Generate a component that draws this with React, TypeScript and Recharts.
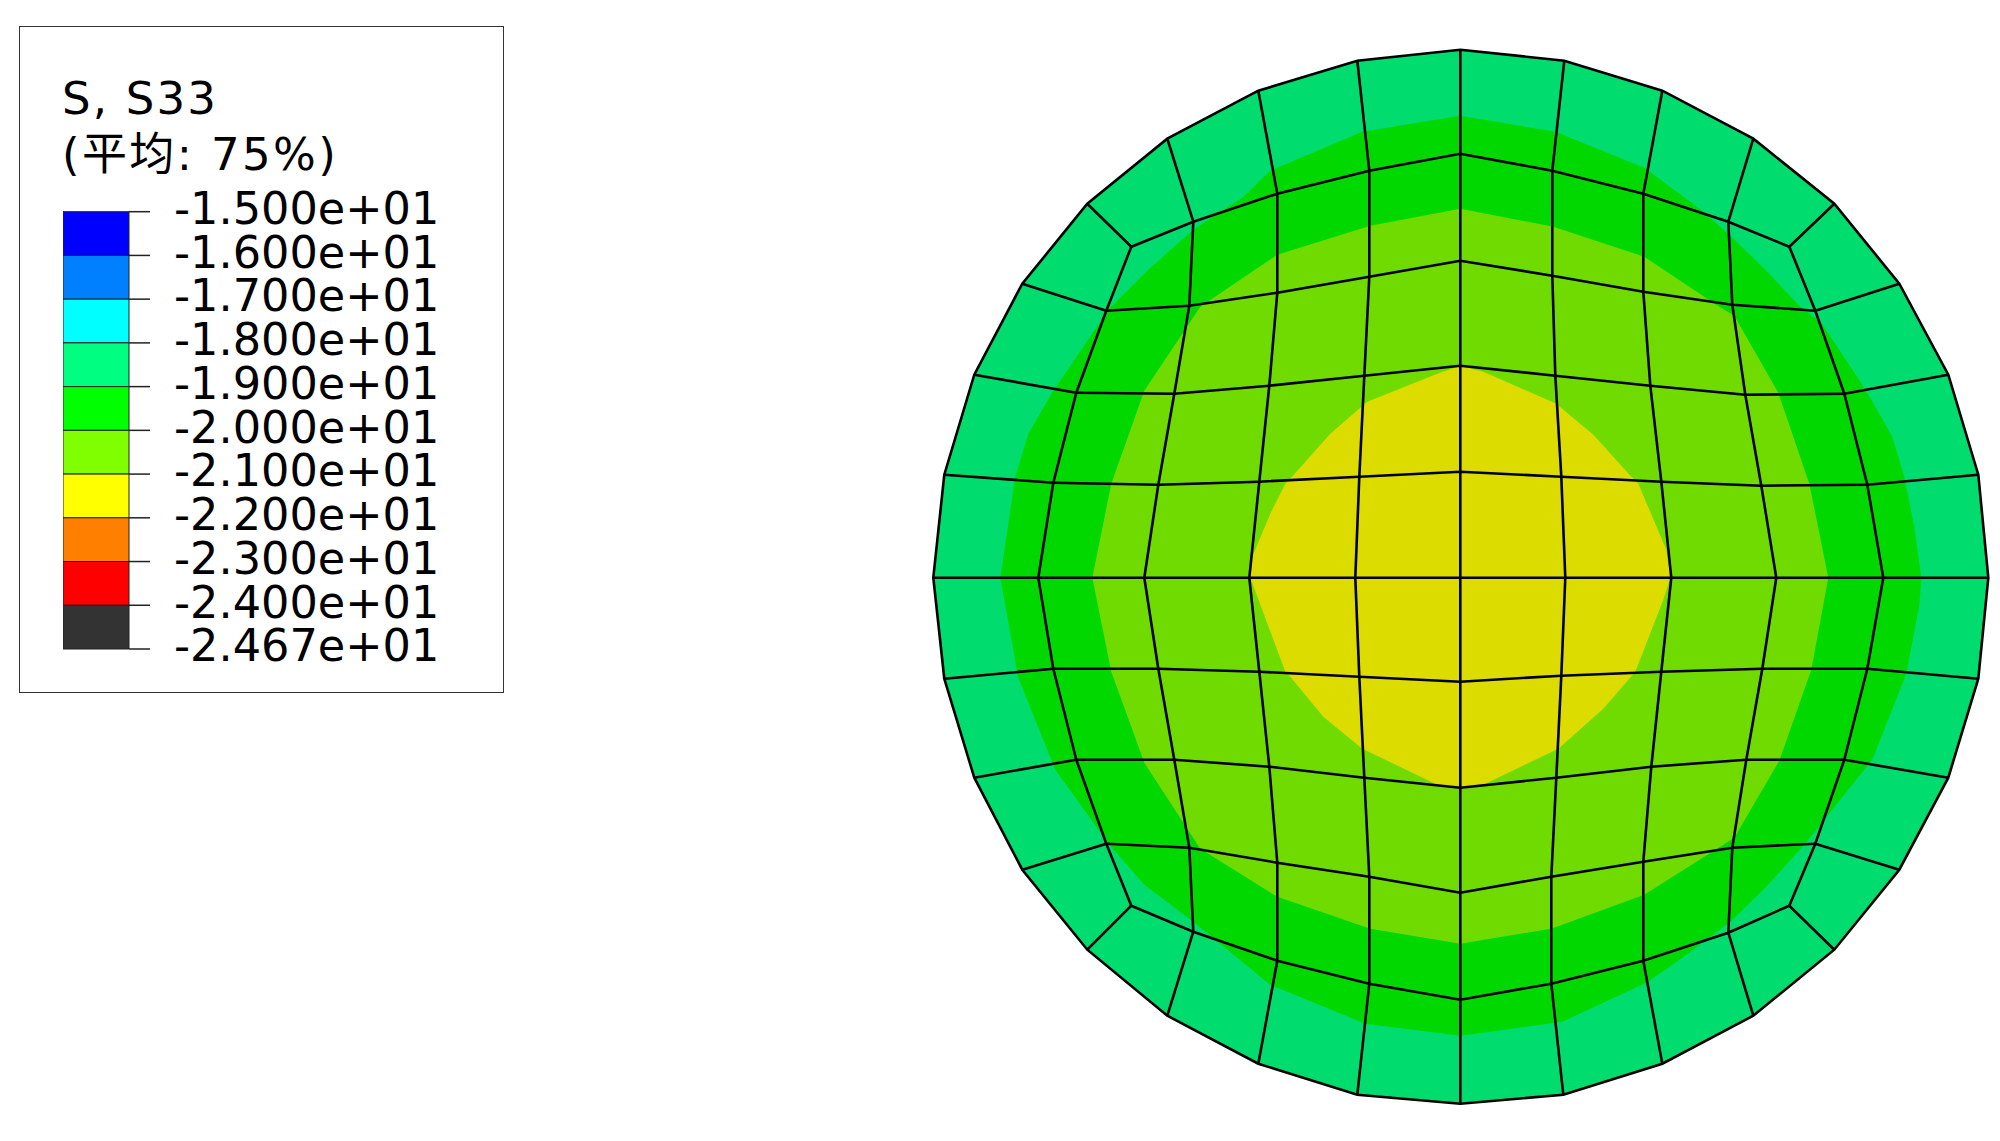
import { Bar, BarChart, Polygon, Scatter, ScatterChart, XAxis, YAxis } from "recharts";

type Pt = [number, number];

// S33 legend, top to bottom
const legendLabels = [
  "-1.500e+01", "-1.600e+01", "-1.700e+01", "-1.800e+01", "-1.900e+01", "-2.000e+01",
  "-2.100e+01", "-2.200e+01", "-2.300e+01", "-2.400e+01", "-2.467e+01"
];
const legendColors = [
  "#0000FF", "#0080FF", "#00FFFF", "#00FF80", "#00FF00",
  "#80FF00", "#FFFF00", "#FF8000", "#FF0000", "#333333"
];

// mesh nodes in model units, origin at the section centre, y up
const meshRows: Pt[][] = [
  [[-329, 331], [-267, 356], [-183, 384], [-91, 407], [0, 424], [92, 407], [183, 384], [268, 356], [329, 331]],
  [[-354, 267], [-271, 272], [-183, 285], [-91, 301], [0, 317], [92, 302], [183, 286], [272, 273], [355, 267]],
  [[-384, 185], [-286, 184], [-191, 192], [-96, 202], [0, 212], [95, 202], [190, 192], [285, 183], [384, 184]],
  [[-407, 95], [-302, 93], [-201, 96], [-101, 101], [0, 106], [101, 101], [201, 96], [301, 92], [407, 93]],
  [[-422, 0], [-316, 0], [-211, 0], [-105, 0], [0, 0], [105, 0], [211, 0], [316, 0], [423, 0]],
  [[-407, -91], [-302, -91], [-201, -94], [-101, -99], [0, -104], [101, -98], [201, -94], [302, -91], [407, -91]],
  [[-384, -182], [-286, -182], [-191, -189], [-96, -200], [0, -210], [96, -200], [191, -189], [286, -182], [384, -182]],
  [[-354, -266], [-271, -270], [-183, -285], [-91, -299], [0, -315], [91, -299], [183, -284], [272, -270], [355, -266]],
  [[-329, -328], [-267, -354], [-183, -383], [-91, -406], [0, -422], [91, -406], [183, -383], [268, -355], [329, -328]]
];

// rim nodes, clockwise from the top
const rimNodes: Pt[] = [
  [0, 528], [104, 517], [202, 487], [293, 439], [374, 374], [439, 294], [488, 203], [518, 103],
  [528, 0], [518, -101], [488, -200], [439, -292], [374, -372], [293, -438], [202, -486], [103, -517],
  [0, -526], [-103, -517], [-202, -486], [-293, -438], [-373, -372], [-438, -292], [-486, -200], [-516, -101],
  [-527, 0], [-516, 103], [-486, 203], [-438, 294], [-373, 374], [-293, 439], [-202, 487], [-103, 517]
];

// contour bands
const greenBand: Pt[] = [
  [0, 462], [95, 446], [184, 410], [242, 367], [270, 342], [305, 308], [340, 271], [361, 255], [400, 196],
  [414, 173], [432, 141], [444, 101], [454, 51], [461, 0], [459, -28], [446, -96], [412, -182], [379, -223],
  [344, -267], [305, -310], [270, -344], [218, -383], [186, -405], [102, -444], [0, -458], [-95, -446],
  [-190, -407], [-267, -344], [-316, -307], [-351, -267], [-405, -192], [-442, -100], [-460, 0], [-445, 101],
  [-432, 144], [-407, 187], [-351, 269], [-312, 308], [-267, 348], [-218, 380], [-190, 407], [-98, 446]
];
const limeBand: Pt[] = [
  [0, 369], [93, 351], [184, 321], [256, 273], [274, 262], [318, 185], [349, 94], [368, 0], [351, -92],
  [319, -183], [274, -260], [184, -317], [91, -351], [0, -366], [-90, -351], [-183, -319], [-260, -271],
  [-316, -185], [-349, -94], [-368, 0], [-349, 94], [-316, 187], [-260, 271], [-183, 323], [-90, 352]
];
const yellowBand: Pt[] = [
  [0, 212], [23, 206], [96, 174], [133, 143], [171, 101], [178, 94], [206, 28], [210, 0], [203, -22],
  [175, -94], [143, -131], [98, -171], [23, -207], [0, -211], [-23, -207], [-98, -171], [-137, -139],
  [-170, -99], [-175, -94], [-210, 0], [-208, 21], [-190, 64], [-175, 94], [-170, 99], [-130, 144],
  [-93, 176], [-23, 204]
];

const bands = [
  { id: "rim", nodes: rimNodes, color: "#00DC6E" },
  { id: "green", nodes: greenBand, color: "#00D800" },
  { id: "lime", nodes: limeBand, color: "#70DB00" },
  { id: "yellow", nodes: yellowBand, color: "#DCDC00" }
];

const toXY = (nodes: Pt[]) => nodes.map(([x, y]) => ({ x, y }));

const meshColumns: Pt[][] = meshRows[0].map((_, i) => meshRows.map((row) => row[i]));

// walks the block edge clockwise, same order as rimNodes
const blockEdge: Pt[] = [
  ...meshRows[0].slice(4),
  ...meshRows.slice(1).map((row) => row[8]),
  ...meshRows[8].slice(0, 8).reverse(),
  ...meshRows.slice(0, 8).reverse().map((row) => row[0]),
  ...meshRows[0].slice(1, 4)
];
const spokes: Pt[][] = rimNodes.map((node, i) => [node, blockEdge[i]]);
const meshLines = [...meshRows, ...meshColumns, ...spokes];

const legendData = [
  Object.fromEntries(legendColors.map((_, i) => [`bin${i}`, 1]))
];

const fontFamily = '"DejaVu Sans", "Noto Sans CJK SC", sans-serif';
const hiddenSymbol = () => <g />;

export default function App() {
  return (
    <div style={{ position: "absolute", left: 0, top: 0, width: 2000, height: 1141, background: "#fff" }}>
      <ScatterChart
        width={2000}
        height={1141}
        margin={{ top: 0, right: 0, bottom: 0, left: 0 }}
        style={{ position: "absolute", left: 0, top: 0 }}
      >
        <XAxis type="number" dataKey="x" domain={[-1460.3, 539.7]} hide />
        <YAxis type="number" dataKey="y" domain={[-563.3, 577.7]} hide />
        {bands.map((band) => (
          <Scatter
            key={band.id}
            data={toXY(band.nodes)}
            isAnimationActive={false}
            shape={hiddenSymbol}
            line={(props: any) => (
              <Polygon
                points={props.points}
                fill={band.color}
                stroke={band.id === "rim" ? "#000" : "none"}
                strokeWidth={2.6}
              />
            )}
          />
        ))}
        {meshLines.map((nodes, i) => (
          <Scatter
            key={i}
            data={toXY(nodes)}
            isAnimationActive={false}
            shape={hiddenSymbol}
            line={{ stroke: "#000", strokeWidth: 2.6 }}
          />
        ))}
      </ScatterChart>

      <div
        style={{
          position: "absolute",
          left: 19,
          top: 26,
          width: 485,
          height: 667,
          boxSizing: "border-box",
          border: "1.5px solid #333"
        }}
      />
      <div
        style={{
          position: "absolute",
          left: 62,
          top: 71,
          fontFamily,
          fontSize: 45,
          lineHeight: "56px",
          color: "#000",
          whiteSpace: "nowrap"
        }}
      >
        <div style={{ letterSpacing: 2.2 }}>S, S33</div>
        <div style={{ letterSpacing: 2.4 }}>(平均: 75%)</div>
      </div>

      <BarChart
        width={450}
        height={520}
        data={legendData}
        barCategoryGap={0}
        margin={{ top: 41.7, right: 0, bottom: 41, left: 0 }}
        style={{ position: "absolute", left: 63, top: 170 }}
      >
        <XAxis type="category" hide />
        <YAxis
          type="number"
          orientation="right"
          reversed
          width={384}
          domain={[0, 10]}
          ticks={legendLabels.map((_, i) => i)}
          interval={0}
          tickFormatter={(i: number) => legendLabels[i]}
          axisLine={false}
          tickSize={21}
          tickMargin={24}
          tickLine={{ stroke: "#222", strokeWidth: 1.5 }}
          tick={{ fontSize: 44.6, fontFamily, fill: "#000", dy: -3.5 }}
        />
        {legendColors.map((color, i) => (
          <Bar
            key={color}
            dataKey={`bin${i}`}
            stackId="legend"
            fill={color}
            stroke="#222"
            strokeWidth={1}
            isAnimationActive={false}
          />
        ))}
      </BarChart>
    </div>
  );
}
